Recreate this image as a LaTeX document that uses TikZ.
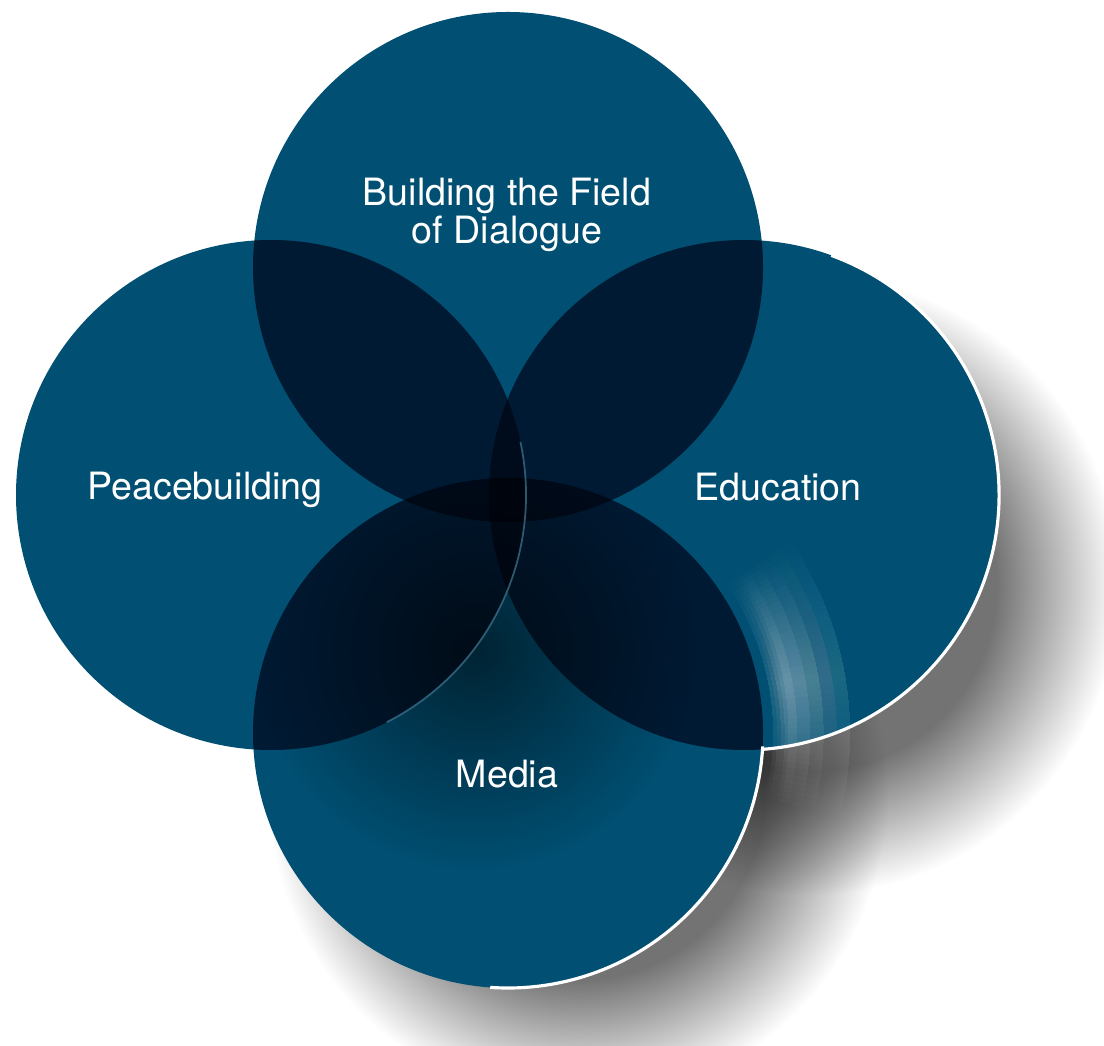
\documentclass[tikz,border=0pt]{standalone}
\usepackage{fontspec}
\setmainfont{TeX Gyre Heros}
\usetikzlibrary{calc,fadings}

\definecolor{circblue}{HTML}{014F72}
\definecolor{pairblue}{HTML}{011A33}
\definecolor{tripleblue}{HTML}{000B1B}
\definecolor{quadblue}{HTML}{00050F}

\newcommand{\rcirc}{2.55}

% soft grey shadow, fading out to white at the rim
\pgfdeclareradialshading{dropshade}{\pgfpoint{0bp}{0bp}}{%
  color(0bp)=(black!55); color(15bp)=(black!55); color(25bp)=(white); color(50bp)=(white)}
% thin bright ring just outside a circle
\pgfdeclareradialshading{glowshade}{\pgfpoint{0bp}{0bp}}{%
  color(0bp)=(black); color(17.9bp)=(black); color(19.5bp)=(white); color(25bp)=(black); color(50bp)=(black)}
\pgfdeclarefading{glowring}{\pgfuseshading{glowshade}}
\tikzfading[name=softspot, inner color=transparent!0, outer color=transparent!100]

\begin{document}
\begin{tikzpicture}[
  lbl/.style={text=white, font=\fontsize{10.7}{10.9}\selectfont, align=center},
  rim/.style={white, line width=0.9pt}
]
\useasboundingbox (0,0) rectangle (11.04,10.45);
\clip (0,0) rectangle (11.04,10.45);

% Centres of the four circles
\coordinate (T) at (5.08,7.78);
\coordinate (L) at (2.71,5.50);
\coordinate (R) at (7.44,5.50);
\coordinate (B) at (5.08,3.12);

% Drop shadows
\begin{scope}[blend group=multiply]
  \shade[shading=dropshade] ($(B)+(0.7,-0.6)$) circle (3.1);
  \shade[shading=dropshade] ($(R)+(0.66,-0.9)$) circle (3.1);
\end{scope}

% Circles
\foreach \c in {T,L,R,B}
  \fill[circblue] (\c) circle (\rcirc);

% Overlaps of two, three and four circles
\foreach \a/\b in {T/L, T/R, T/B, L/R, L/B, R/B} {
  \begin{scope}
    \clip (\a) circle (\rcirc);
    \fill[pairblue] (\b) circle (\rcirc);
  \end{scope}
}
\foreach \a/\b/\c in {T/L/R, T/L/B, T/R/B, L/R/B} {
  \begin{scope}
    \clip (\a) circle (\rcirc);
    \clip (\b) circle (\rcirc);
    \fill[tripleblue] (\c) circle (\rcirc);
  \end{scope}
}
\begin{scope}
  \clip (T) circle (\rcirc);
  \clip (L) circle (\rcirc);
  \clip (R) circle (\rcirc);
  \fill[quadblue] (B) circle (\rcirc);
\end{scope}

% Shade inside the bottom circle
\begin{scope}
  \clip (B) circle (\rcirc);
  \fill[black, opacity=0.55, path fading=softspot] (4.75,3.95) circle (2.2);
\end{scope}

% Glow beside the bottom circle
\foreach \w in {1,...,24} {
  \begin{scope}
    \clip (B) -- ++(10-\w:4.5) arc[start angle=10-\w, end angle=10+\w, radius=4.5] -- cycle;
    \fill[white, opacity=0.025, path fading=glowring] (B) circle (3.6);
  \end{scope}
}

% Edge of the left circle
\draw[circblue!75!white, line width=0.5pt, opacity=0.7]
  (L) ++(12:\rcirc) arc[start angle=12, end angle=-63, radius=\rcirc];

% White rims
\draw[rim] (R) ++(70:\rcirc) arc[start angle=70, end angle=-86, radius=\rcirc];
\draw[rim] (B) ++(-3:\rcirc) arc[start angle=-3, end angle=-94, radius=\rcirc];

% Labels
\node[lbl] (field) at (5.07,8.30) {Building the Field\\of Dialogue};
\node[lbl] (peace) at (2.05,5.55) {Peacebuilding};
\node[lbl] (edu) at (7.78,5.58) {Education};
\node[lbl] (media) at (5.07,2.71) {Media};
\end{tikzpicture}
\end{document}
